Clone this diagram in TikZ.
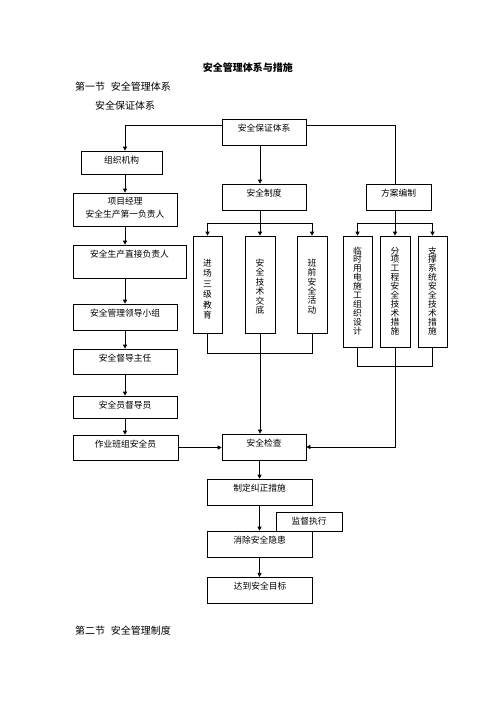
\documentclass[tikz,border=0pt]{standalone}
\usepackage{fontspec}
\newfontfamily\cjk{Noto Sans CJK SC}
\usetikzlibrary{arrows.meta}

\begin{document}
\begin{tikzpicture}[x=1.2pt,y=-1.2pt,
    box/.style={draw, line width=0.8pt, inner sep=0pt, align=center, text height=14.4pt, font=\cjk\fontsize{10.5pt}{16.3pt}\selectfont},
    arr/.style={line width=0.8pt, -{Triangle[length=4.8pt,width=4.8pt]}},
    conn/.style={line width=0.8pt},
    head/.style={anchor=west, inner sep=0pt, font=\cjk\fontsize{12pt}{14pt}\selectfont}]
    \useasboundingbox (0,0) rectangle (496,702);
    % headings
    \node[head, anchor=center, font=\cjk\bfseries\fontsize{12pt}{14pt}\selectfont] (title) at (247.8,67.3) {安全管理体系与措施};
    \node[head] (sec1) at (75,86.7) {第一节\hspace{7pt}安全管理体系};
    \node[head] (sub1) at (95,105.7) {安全保证体系};
    \node[head] (sec2) at (75,630.7) {第二节\hspace{7pt}安全管理制度};
    % top box
    \node[box, text width=100.8pt, text depth=16.8pt] (sys) at (264,132) {安全保证体系};
    % left column
    \node[box, text width=97.2pt, text depth=13.2pt] (org) at (121.5,162.5) {组织机构};
    \node[box, text width=124.8pt, text height=13.2pt, text depth=26.4pt] (pm) at (125,209.5) {项目经理\\安全生产第一负责人};
    \node[box, text width=135.6pt, text depth=25.2pt] (direct) at (129.5,261.5) {安全生产直接负责人};
    \node[box, text width=124.8pt, text depth=16.8pt] (lead) at (125,317) {安全管理领导小组};
    \node[box, text width=124.8pt, text depth=15.6pt] (dir) at (125,361.5) {安全督导主任};
    \node[box, text width=124.8pt, text depth=12pt] (insp) at (125,407) {安全员督导员};
    \node[box, text width=126pt, text depth=15.6pt] (crew) at (125.5,447.5) {作业班组安全员};
    % middle and right
    \node[box, text width=100.8pt, text depth=16.8pt] (rules) at (264,197) {安全制度};
    \node[box, text width=78pt, text depth=16.8pt] (plan) at (398.5,197) {方案编制};
    \node[box, text width=34.8pt, text height=36.4pt, text depth=80pt, font=\cjk\fontsize{10.5pt}{12.5pt}\selectfont] (b1) at (207.5,284.5) {进\\场\\三\\级\\教\\育};
    \node[box, text width=36pt, text height=36.4pt, text depth=80pt, font=\cjk\fontsize{10.5pt}{11.4pt}\selectfont] (b2) at (260,284.5) {安\\全\\技\\术\\交\\底};
    \node[box, text width=36pt, text height=36.4pt, text depth=80pt, font=\cjk\fontsize{10.5pt}{11.2pt}\selectfont] (b3) at (312,284.5) {班\\前\\安\\全\\活\\动};
    \node[box, text width=34.8pt, text height=21.6pt, text depth=111.6pt, font=\cjk\fontsize{10.5pt}{10.7pt}\selectfont] (r1) at (357.5,291.5) {临\\时\\用\\电\\施\\工\\组\\织\\设\\计};
    \node[box, text width=36pt, text height=21.6pt, text depth=111.6pt, font=\cjk\fontsize{10.5pt}{10.7pt}\selectfont] (r2) at (395,291.5) {分\\项\\工\\程\\安\\全\\技\\术\\措\\施};
    \node[box, text width=34.8pt, text height=21.6pt, text depth=111.6pt, font=\cjk\fontsize{10.5pt}{10.7pt}\selectfont] (r3) at (432.5,291.5) {支\\撑\\系\\统\\安\\全\\技\\术\\措\\施};
    % lower chain
    \node[box, text width=100.8pt, text depth=16.8pt] (chk) at (264,447) {安全检查};
    \node[box, text width=126pt, text depth=16.8pt] (fix) at (259.5,492) {制定纠正措施};
    \node[box, text width=79.2pt, text depth=8.4pt] (sup) at (309,521.5) {监督执行};
    \node[box, text width=126pt, text depth=16.8pt] (elim) at (259.5,544) {消除安全隐患};
    \node[box, text width=125.5pt, text depth=16.8pt] (goal) at (260,590.3) {达到安全目标};
    % connectors from the top box
    \draw[arr] ([yshift=8.4pt]sys.west) -| (org.north -| pm.north);
    \draw[conn] ([yshift=8.4pt]sys.east) -| (plan.north -| r2.north);
    \draw[arr] (sys.south -| b2.north) -- (rules.north -| b2.north);
    % left column
    \draw[arr] (org.south -| pm.north) -- (pm.north);
    \draw[arr] (pm.south) -- (pm.south |- direct.north);
    \draw[arr] (pm.south |- direct.south) -- (lead.north);
    \draw[arr] (lead.south) -- (dir.north);
    \draw[arr] (dir.south) -- (insp.north);
    \draw[arr] (insp.south) -- (insp.south |- crew.north);
    \draw[arr] (crew.east) -- (crew.east -| chk.west);
    % rules branch
    \draw[conn] (rules.south -| b2.north) -- ++(0,13) coordinate (rsplit);
    \draw[arr] (rsplit) -| (b1.north);
    \draw[arr] (rsplit) -- (b2.north);
    \draw[arr] (rsplit) -| (b3.north);
    \draw[conn] (b1.south) -- ++(0,20) -| (b3.south);
    \draw[arr] (b2.south) -- (b2.south |- chk.north);
    % plan branch
    \draw[conn] (plan.south -| r2.north) -- ++(0,13) coordinate (psplit);
    \draw[arr] (psplit) -| (r1.north);
    \draw[arr] (psplit) -- (r2.north);
    \draw[arr] (psplit) -| (r3.north);
    \draw[conn] (r1.south) -- ++(0,19) -| (r3.south);
    \draw[arr] (r2.south) |- (chk.east);
    % lower chain
    \draw[arr] (chk.south -| fix.north) -- (fix.north);
    \draw[arr] (fix.south) -- (elim.north);
    \draw[arr] (elim.south) -- (elim.south |- goal.north);
\end{tikzpicture}
\end{document}
